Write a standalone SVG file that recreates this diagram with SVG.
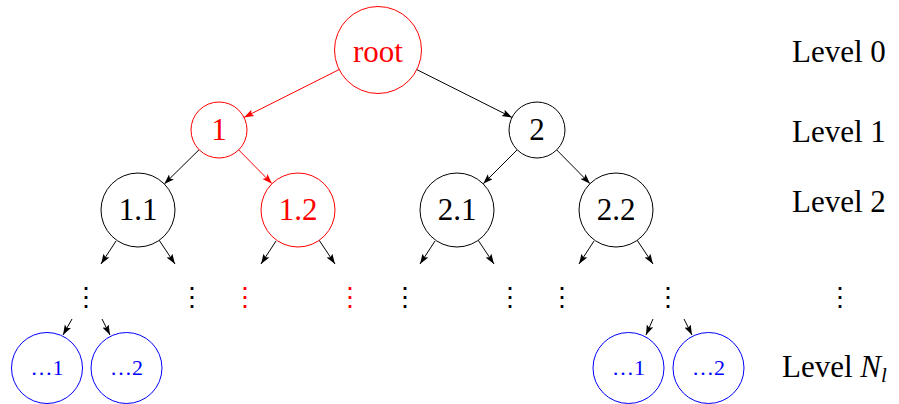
<svg xmlns="http://www.w3.org/2000/svg" width="899" height="404" viewBox="0 0 899 404">
  <defs>
    <marker id="ah-black" markerUnits="userSpaceOnUse" markerWidth="10" markerHeight="8" refX="10" refY="3.5" orient="auto">
      <path d="M0,0 L10,3.5 L0,7 L2,3.5 z" fill="#000"/>
    </marker>
    <marker id="ah-red" markerUnits="userSpaceOnUse" markerWidth="10" markerHeight="8" refX="10" refY="3.5" orient="auto">
      <path d="M0,0 L10,3.5 L0,7 L2,3.5 z" fill="#f00"/>
    </marker>
  </defs>
  <style>
    text { font-family: "Liberation Serif", "DejaVu Serif", serif; }
    .node { fill: #fff; stroke: #000; stroke-width: 1; }
    .node-red { fill: #fff; stroke: #f00; stroke-width: 1; }
    .node-blue { fill: #fff; stroke: #00f; stroke-width: 1; }
    .lbl { font-size: 31px; text-anchor: middle; fill: #000; }
    .lbl-red { font-size: 31px; text-anchor: middle; fill: #f00; }
    .lbl-blue { font-size: 22px; text-anchor: middle; fill: #00f; }
    .lvl { font-size: 31px; fill: #000; }
    .vdots { font-family: "DejaVu Serif", serif; font-size: 26px; text-anchor: middle; fill: #000; }
    .vdots-red { font-family: "DejaVu Serif", serif; font-size: 26px; text-anchor: middle; fill: #f00; }
    .edge { stroke: #000; stroke-width: 1; fill: none; marker-end: url(#ah-black); }
    .edge-red { stroke: #f00; stroke-width: 1; fill: none; marker-end: url(#ah-red); }
  </style>

  <!-- connectors -->
  <g id="edges">
    <line class="edge-red" x1="339.2" y1="69.5" x2="244" y2="117.4"/>
    <line class="edge" x1="416.8" y1="69.6" x2="512" y2="117.4"/>
    <line class="edge" x1="199.1" y1="149.7" x2="164.3" y2="184"/>
    <line class="edge-red" x1="238.7" y1="149.9" x2="272" y2="183.7"/>
    <line class="edge" x1="517.2" y1="149.8" x2="483.2" y2="183.8"/>
    <line class="edge" x1="556.7" y1="149.9" x2="590" y2="183.7"/>
    <!-- level 2 to deeper levels -->
    <line class="edge" x1="116" y1="241" x2="101" y2="264"/>
    <line class="edge" x1="159" y1="240" x2="175" y2="264"/>
    <line class="edge" x1="276" y1="241" x2="261" y2="264"/>
    <line class="edge" x1="319" y1="240" x2="335" y2="264"/>
    <line class="edge" x1="435" y1="241" x2="420" y2="264"/>
    <line class="edge" x1="478" y1="240" x2="494" y2="264"/>
    <line class="edge" x1="594" y1="241" x2="579" y2="264"/>
    <line class="edge" x1="637" y1="240" x2="653" y2="264"/>
    <!-- into leaf level -->
    <line class="edge" x1="72" y1="319" x2="63" y2="335"/>
    <line class="edge" x1="102" y1="319" x2="110" y2="335"/>
    <line class="edge" x1="653" y1="319" x2="646" y2="335"/>
    <line class="edge" x1="684" y1="319" x2="692" y2="335"/>
  </g>

  <g id="n-root">
    <circle class="node-red" cx="378" cy="50" r="43.5"/>
    <text class="lbl-red" x="378" y="62">root</text>
  </g>
  <g id="n-1">
    <circle class="node-red" cx="219" cy="130" r="28"/>
    <text class="lbl-red" x="219" y="140">1</text>
  </g>
  <g id="n-2">
    <circle class="node" cx="537" cy="130" r="28"/>
    <text class="lbl" x="537" y="140">2</text>
  </g>
  <g id="n-1-1">
    <circle class="node" cx="138" cy="210" r="37"/>
    <text class="lbl" x="138" y="220">1.1</text>
  </g>
  <g id="n-1-2">
    <circle class="node-red" cx="298" cy="210" r="37"/>
    <text class="lbl-red" x="298" y="220">1.2</text>
  </g>
  <g id="n-2-1">
    <circle class="node" cx="457" cy="210" r="37"/>
    <text class="lbl" x="457" y="220">2.1</text>
  </g>
  <g id="n-2-2">
    <circle class="node" cx="616" cy="210" r="37"/>
    <text class="lbl" x="616" y="220">2.2</text>
  </g>

  <!-- elided levels -->
  <g id="ellipses">
    <text class="vdots" x="86" y="306">⋮</text>
    <text class="vdots" x="192" y="306">⋮</text>
    <text class="vdots-red" x="245" y="306">⋮</text>
    <text class="vdots-red" x="350" y="306">⋮</text>
    <text class="vdots" x="405" y="306">⋮</text>
    <text class="vdots" x="510" y="306">⋮</text>
    <text class="vdots" x="562" y="306">⋮</text>
    <text class="vdots" x="668" y="306">⋮</text>
    <text class="vdots" x="840" y="306">⋮</text>
  </g>

  <g id="leaf-a1">
    <circle class="node-blue" cx="47" cy="368" r="35.5"/>
    <text class="lbl-blue" x="47" y="375">…1</text>
  </g>
  <g id="leaf-a2">
    <circle class="node-blue" cx="126.5" cy="368" r="35.5"/>
    <text class="lbl-blue" x="126.5" y="375">…2</text>
  </g>
  <g id="leaf-b1">
    <circle class="node-blue" cx="628.5" cy="368" r="35.5"/>
    <text class="lbl-blue" x="628.5" y="375">…1</text>
  </g>
  <g id="leaf-b2">
    <circle class="node-blue" cx="708.5" cy="368" r="35.5"/>
    <text class="lbl-blue" x="708.5" y="375">…2</text>
  </g>

  <!-- level captions -->
  <g id="levels">
    <text class="lvl" x="792" y="62">Level 0</text>
    <text class="lvl" x="792" y="142">Level 1</text>
    <text class="lvl" x="792" y="212">Level 2</text>
    <text class="lvl" x="782" y="377">Level <tspan font-style="italic">N</tspan><tspan font-style="italic" font-size="21px" dy="5">l</tspan></text>
  </g>
</svg>
